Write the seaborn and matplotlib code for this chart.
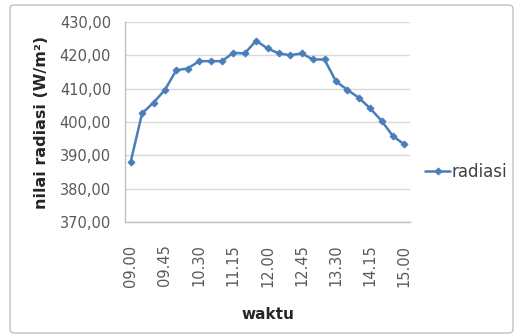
import matplotlib
matplotlib.use("Agg")
import matplotlib.pyplot as plt
from matplotlib.patches import FancyBboxPatch
import numpy as np
import pandas as pd
import seaborn as sns

waktu = ["09.00", "09.15", "09.30", "09.45", "10.00", "10.15", "10.30", "10.45",
         "11.00", "11.15", "11.30", "11.45", "12.00", "12.15", "12.30", "12.45",
         "13.00", "13.15", "13.30", "13.45", "14.00", "14.15", "14.30", "14.45", "15.00"]
radiasi = [388.1, 402.6, 405.8, 409.6, 415.5, 416.0, 418.2, 418.2, 418.2, 420.7,
           420.5, 424.3, 422.0, 420.5, 420.0, 420.5, 418.7, 418.7, 412.2, 409.6,
           407.3, 404.1, 400.4, 395.8, 393.3]
y_ticks = [370, 380, 390, 400, 410, 420, 430]

df = pd.DataFrame({"waktu": waktu, "radiasi": radiasi})

sns.set_style("white")
plt.rcParams["font.family"] = ["DejaVu Sans"]

fig = plt.figure(figsize=(5.22, 3.36), dpi=100)
fig.patch.set_facecolor("white")
# outer chart border
fig.patches.append(FancyBboxPatch((10/522, (336-333)/336), 503/522, 328/336,
                                  boxstyle="round,pad=0,rounding_size=0.01",
                                  transform=fig.transFigure, fill=False,
                                  edgecolor="#BFBFBF", linewidth=1.0))

ax = fig.add_axes([125/522, (336-222.3)/336, 285/522, (222.3-21.7)/336])
line_color = "#4A7EBB"
sns.lineplot(data=df, x="waktu", y="radiasi", ax=ax, sort=False, color=line_color,
             linewidth=1.8, marker="D", markersize=3.5, markeredgecolor=line_color,
             label="radiasi")

ax.set_ylim(370, 430)
ax.set_xlim(-0.5, len(waktu) - 0.5)
ax.set_yticks(y_ticks)
ax.set_yticklabels([f"{v:.2f}".replace(".", ",") for v in y_ticks])
ax.set_xticks(range(0, len(waktu), 3))
ax.set_xticklabels(waktu[::3], rotation=90)
ax.set_xticks(np.arange(-0.5, len(waktu), 1.0), minor=True)

ax.grid(axis="y", color="#D9D9D9", linewidth=1.0)
ax.set_axisbelow(True)
for s in ["top", "right"]:
    ax.spines[s].set_visible(False)
for s in ["left", "bottom"]:
    ax.spines[s].set_color("#BFBFBF")
    ax.spines[s].set_linewidth(1.0)

ax.tick_params(axis="y", which="major", direction="out", length=4, color="#BFBFBF",
               labelsize=10.5, labelcolor="#595959", pad=6)
ax.tick_params(axis="x", which="major", length=0, labelsize=10.5, labelcolor="#595959", pad=16)
ax.tick_params(axis="x", which="minor", direction="out", length=4, color="#BFBFBF")

ax.set_xlabel("waktu", fontsize=11, fontweight="bold", color="#262626", labelpad=15)
ax.set_ylabel("nilai radiasi (W/m²)", fontsize=11.5, fontweight="bold", color="#262626", labelpad=8)

leg = ax.legend(loc="center left", bbox_to_anchor=(1.03, 0.25), frameon=False,
                fontsize=12, handlelength=1.5, handletextpad=0.1, borderaxespad=0)
for t in leg.get_texts():
    t.set_color("#404040")

fig.savefig("out.png", dpi=100, facecolor="white")
